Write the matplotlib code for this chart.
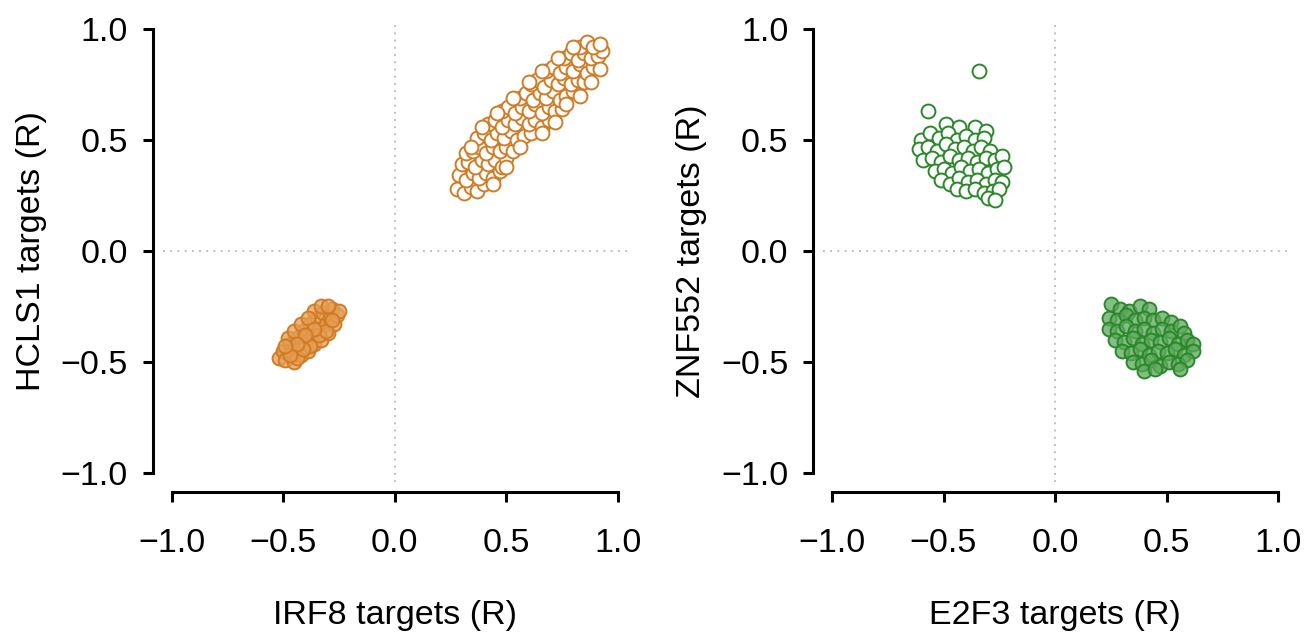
"""
  target correlation scatter plots, two panels
"""

import matplotlib.pyplot as plt

plt.rcParams['font.family'] = ['Liberation Sans', 'DejaVu Sans']

# left panel: IRF8 vs HCLS1 targets, open points (positive cluster)
irf8_open_x = [0.28, 0.31, 0.34, 0.37, 0.40,
               0.29, 0.32, 0.35, 0.38, 0.41, 0.44, 0.47,
               0.30, 0.33, 0.36, 0.39, 0.42, 0.45, 0.48, 0.50,
               0.32, 0.35, 0.38, 0.41, 0.44, 0.47, 0.50, 0.53,
               0.37, 0.40, 0.43, 0.46, 0.49, 0.52, 0.55, 0.58, 0.61,
               0.42, 0.45, 0.48, 0.51, 0.54, 0.57, 0.60, 0.63, 0.66, 0.69,
               0.48, 0.51, 0.54, 0.57, 0.60, 0.63, 0.66, 0.69, 0.72, 0.75,
               0.56, 0.59, 0.62, 0.65, 0.68, 0.71, 0.74, 0.77, 0.80,
               0.61, 0.64, 0.67, 0.70, 0.73, 0.76, 0.79, 0.82, 0.85,
               0.68, 0.71, 0.74, 0.77, 0.80, 0.83, 0.86, 0.89,
               0.76, 0.79, 0.82, 0.85, 0.88, 0.91, 0.93,
               0.83, 0.86, 0.89, 0.92,
               0.56, 0.66, 0.72, 0.77, 0.83, 0.88, 0.92, 0.50, 0.44,
               0.34, 0.39, 0.46, 0.53, 0.60, 0.66, 0.73, 0.80]
hcls1_open_y = [0.28, 0.26, 0.29, 0.27, 0.30,
                0.34, 0.32, 0.35, 0.33, 0.35, 0.33, 0.36,
                0.39, 0.40, 0.38, 0.41, 0.39, 0.41, 0.38, 0.42,
                0.44, 0.45, 0.47, 0.44, 0.47, 0.45, 0.47, 0.45,
                0.51, 0.53, 0.50, 0.53, 0.51, 0.54, 0.50, 0.52, 0.53,
                0.57, 0.59, 0.56, 0.59, 0.57, 0.60, 0.57, 0.59, 0.56, 0.59,
                0.63, 0.65, 0.62, 0.65, 0.63, 0.66, 0.62, 0.65, 0.63, 0.64,
                0.69, 0.71, 0.68, 0.71, 0.69, 0.72, 0.68, 0.70, 0.72,
                0.75, 0.77, 0.74, 0.77, 0.75, 0.78, 0.75, 0.77, 0.76,
                0.81, 0.83, 0.80, 0.83, 0.81, 0.84, 0.80, 0.83,
                0.87, 0.89, 0.86, 0.89, 0.87, 0.88, 0.90,
                0.92, 0.94, 0.92, 0.93,
                0.47, 0.53, 0.58, 0.66, 0.70, 0.76, 0.82, 0.38, 0.30,
                0.47, 0.56, 0.62, 0.69, 0.76, 0.81, 0.87, 0.92]

# left panel: filled points (negative cluster)
irf8_fill_x = [-0.52, -0.50, -0.49, -0.47, -0.46, -0.45, -0.44, -0.43, -0.42,
               -0.41, -0.40, -0.39, -0.38, -0.37, -0.36, -0.35, -0.34, -0.33,
               -0.36, -0.32, -0.31, -0.30, -0.29, -0.28, -0.27, -0.26, -0.25,
               -0.48, -0.45, -0.42, -0.39, -0.33, -0.30, -0.44, -0.38, -0.34,
               -0.31, -0.28, -0.47, -0.41, -0.36, -0.40, -0.44, -0.49]
hcls1_fill_y = [-0.48, -0.45, -0.49, -0.42, -0.46, -0.50, -0.39, -0.44, -0.47,
                -0.36, -0.41, -0.45, -0.33, -0.38, -0.42, -0.30, -0.35, -0.40,
                -0.27, -0.28, -0.33, -0.37, -0.30, -0.26, -0.33, -0.29, -0.27,
                -0.39, -0.36, -0.33, -0.30, -0.25, -0.25, -0.48, -0.43, -0.38,
                -0.36, -0.31, -0.47, -0.44, -0.35, -0.38, -0.42, -0.43]

# right panel: E2F3 vs ZNF552 targets, open points
e2f3_open_x = [-0.34,
               -0.57, -0.49, -0.43, -0.36, -0.31,
               -0.60, -0.56, -0.52, -0.48, -0.44, -0.40, -0.36, -0.32,
               -0.61, -0.57, -0.53, -0.49, -0.45, -0.41, -0.37, -0.33, -0.29,
               -0.59, -0.55, -0.51, -0.47, -0.43, -0.39, -0.35, -0.31, -0.27, -0.24,
               -0.54, -0.50, -0.46, -0.42, -0.38, -0.34, -0.30, -0.26, -0.23,
               -0.51, -0.47, -0.43, -0.39, -0.35, -0.31, -0.27, -0.24,
               -0.44, -0.40, -0.36, -0.32, -0.28, -0.25,
               -0.30, -0.27]
znf552_open_y = [0.81,
                 0.63, 0.57, 0.56, 0.56, 0.54,
                 0.50, 0.53, 0.51, 0.53, 0.50, 0.52, 0.50, 0.51,
                 0.46, 0.47, 0.45, 0.48, 0.46, 0.47, 0.45, 0.47, 0.45,
                 0.41, 0.42, 0.40, 0.43, 0.41, 0.42, 0.40, 0.42, 0.41, 0.43,
                 0.36, 0.37, 0.35, 0.38, 0.36, 0.37, 0.35, 0.37, 0.38,
                 0.32, 0.30, 0.33, 0.31, 0.32, 0.30, 0.32, 0.31,
                 0.28, 0.27, 0.28, 0.26, 0.27, 0.28,
                 0.24, 0.23]

# right panel: filled points
e2f3_fill_x = [0.25, 0.29, 0.33, 0.38, 0.42,
               0.24, 0.28, 0.32, 0.36, 0.40, 0.44, 0.48, 0.52,
               0.24, 0.28, 0.32, 0.36, 0.40, 0.44, 0.48, 0.52, 0.56, 0.58,
               0.27, 0.31, 0.35, 0.39, 0.43, 0.47, 0.51, 0.55, 0.59, 0.62,
               0.30, 0.34, 0.38, 0.42, 0.46, 0.50, 0.54, 0.58, 0.62,
               0.35, 0.39, 0.43, 0.47, 0.51, 0.55, 0.59,
               0.40, 0.45, 0.56]
znf552_fill_y = [-0.24, -0.26, -0.27, -0.25, -0.26,
                 -0.30, -0.31, -0.29, -0.31, -0.30, -0.31, -0.30, -0.32,
                 -0.35, -0.36, -0.34, -0.36, -0.35, -0.37, -0.35, -0.36, -0.34, -0.37,
                 -0.40, -0.41, -0.39, -0.42, -0.40, -0.41, -0.39, -0.42, -0.40, -0.42,
                 -0.45, -0.46, -0.44, -0.47, -0.45, -0.46, -0.44, -0.47, -0.45,
                 -0.50, -0.51, -0.49, -0.52, -0.50, -0.51, -0.49,
                 -0.54, -0.53, -0.53]

ticks = [-1.0, -0.5, 0.0, 0.5, 1.0]
tick_labels = ['\u22121.0', '\u22120.5', '0.0', '0.5', '1.0']

orange = '#D07C26'
orange_fill = (0.90, 0.62, 0.33, 0.75)
green = '#2A882A'
green_fill = (0.36, 0.66, 0.36, 0.75)


def drawPanel(ax, xo, yo, xf, yf, col, fcol, xlab, ylab):
    ax.axhline(0, color='#b8b8b8', ls=(0, (1, 3)), lw=1.3, zorder=0)
    ax.axvline(0, color='#b8b8b8', ls=(0, (1, 3)), lw=1.3, zorder=0)

    ax.scatter(xo, yo, s=100, facecolor='white', edgecolor=col, lw=1.4,
               zorder=2, clip_on=False)
    ax.scatter(xf, yf, s=100, facecolor=fcol, edgecolor=col, lw=1.4,
               zorder=2, clip_on=False)

    ax.set_xlim(-1.04, 1.04)
    ax.set_ylim(-1.04, 1.04)
    ax.set_xticks(ticks)
    ax.set_xticklabels(tick_labels)
    ax.set_yticks(ticks)
    ax.set_yticklabels(tick_labels)

    for side in ['top', 'right']:
        ax.spines[side].set_visible(False)
    for side in ['left', 'bottom']:
        ax.spines[side].set_position(('outward', 7))
        ax.spines[side].set_linewidth(2.2)
        ax.spines[side].set_capstyle('projecting')
    ax.spines['left'].set_bounds(-1, 1)
    ax.spines['bottom'].set_bounds(-1, 1)

    ax.tick_params(axis='both', length=7, width=2.2, labelsize=24.5)
    ax.tick_params(axis='x', pad=19)
    ax.tick_params(axis='y', pad=11)

    ax.set_xlabel(xlab, fontsize=24.5, labelpad=30)
    ax.set_ylabel(ylab, fontsize=24.5, labelpad=10)


###################  main  ###################
fig = plt.figure(figsize=(13.16, 6.37), dpi=100)

ax1 = fig.add_axes([0.1236, 0.2435, 0.3526, 0.725])
drawPanel(ax1, irf8_open_x, hcls1_open_y, irf8_fill_x, hcls1_fill_y,
          orange, orange_fill, 'IRF8 targets (R)', 'HCLS1 targets (R)')

ax2 = fig.add_axes([0.6255, 0.2435, 0.3524, 0.725])
drawPanel(ax2, e2f3_open_x, znf552_open_y, e2f3_fill_x, znf552_fill_y,
          green, green_fill, 'E2F3 targets (R)', 'ZNF552 targets (R)')

fig.savefig('out.png', dpi=100)
